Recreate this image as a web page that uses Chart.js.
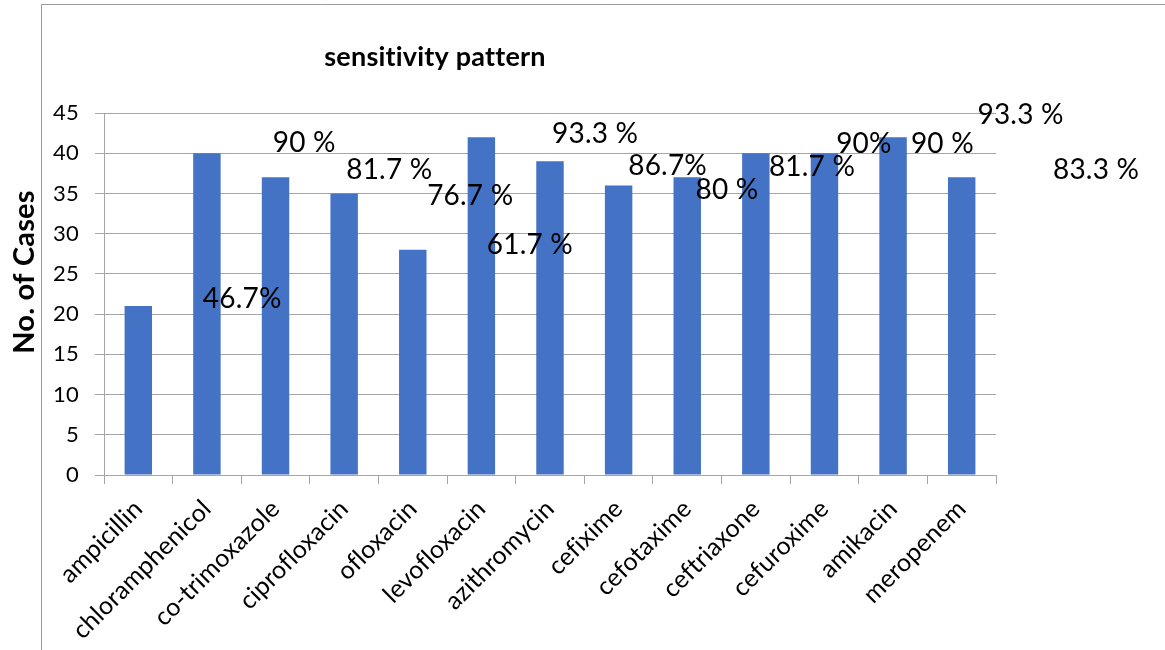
<!DOCTYPE html>
<html>
<head>
<meta charset="utf-8">
<title>sensitivity pattern</title>
<script src="https://cdn.jsdelivr.net/npm/chart.js@4/dist/chart.umd.min.js"></script>
<style>
  html, body { margin: 0; padding: 0; background: #fff; }
  #wrap { position: relative; width: 1165px; height: 650px; }
</style>
</head>
<body>
<div id="wrap"><canvas id="chart" width="1165" height="650"></canvas></div>
<script>
// Antibiotics tested
const drugs = ['ampicillin', 'chloramphenicol', 'co-trimoxazole', 'ciprofloxacin', 'ofloxacin',
  'levofloxacin', 'azithromycin', 'cefixime', 'cefotaxime', 'ceftriaxone', 'cefuroxime',
  'amikacin', 'meropenem'];

// Number of sensitive cases per antibiotic
const cases = [21, 40, 37, 35, 28, 42, 39, 36, 37, 40, 40, 42, 37];

// Sensitivity percentages shown as free text labels
const pctLabels = ['46.7%', '90 %', '81.7 %', '76.7 %', '61.7 %', '93.3 %', '86.7%',
  '80 %', '81.7 %', '90%', '90 %', '93.3 %', '83.3 %'];

// Axis ticks
const yTicks = [0, 5, 10, 15, 20, 25, 30, 35, 40, 45];

// Where each percentage text sits: left edge on the category axis, vertical centre on the value axis
const pctPosX = [0.94, 1.96, 3.03, 4.21, 5.08, 6.03, 7.14, 8.12, 9.19, 10.17, 11.26, 12.23, 13.33];
const pctPosY = [21.9, 41.3, 37.9, 34.7, 28.6, 42.4, 38.4, 35.4, 38.3, 41.2, 41.2, 44.75, 37.9];

const FONT = 'Lato, "Open Sans", sans-serif';
const GRID = '#a6a6a6';

// Frame lines, headings and the percentage texts
const decorations = {
  id: 'decorations',
  beforeDraw(chart) {
    const ctx = chart.ctx;
    // a tiny letter spacing keeps "fi"/"fl" from being drawn as ligatures
    ctx.letterSpacing = '0.2px';
    ctx.save();
    ctx.fillStyle = '#fff';
    ctx.fillRect(0, 0, chart.width, chart.height);
    ctx.strokeStyle = '#9a9a9a';
    ctx.lineWidth = 1;
    ctx.beginPath();
    ctx.moveTo(41.5, chart.height);
    ctx.lineTo(41.5, 4.5);
    ctx.lineTo(chart.width, 4.5);
    ctx.stroke();
    ctx.fillStyle = '#000';
    ctx.font = 'bold 27px ' + FONT;
    ctx.textAlign = 'center';
    ctx.textBaseline = 'alphabetic';
    ctx.fillText('sensitivity pattern', 435, 66);
    // value axis title
    ctx.translate(25, 272);
    ctx.rotate(-Math.PI / 2);
    ctx.font = 'bold 29px ' + FONT;
    ctx.textBaseline = 'middle';
    ctx.fillText('No. of Cases', 0, 0);
    ctx.restore();
  },
  afterDatasetsDraw(chart) {
    const ctx = chart.ctx;
    const xs = chart.scales.x, ys = chart.scales.y;
    ctx.save();
    ctx.fillStyle = '#000';
    ctx.font = '28px ' + FONT;
    ctx.textAlign = 'left';
    ctx.textBaseline = 'middle';
    pctLabels.forEach((t, i) => {
      ctx.fillText(t, xs.getPixelForValue(pctPosX[i]), ys.getPixelForValue(pctPosY[i]));
    });
    ctx.restore();
  }
};

new Chart(document.getElementById('chart'), {
  type: 'bar',
  data: {
    labels: drugs,
    datasets: [{
      label: 'No. of Cases',
      data: cases,
      backgroundColor: '#4472C4',
      borderWidth: 0,
      categoryPercentage: 1,
      barPercentage: 0.4
    }]
  },
  options: {
    responsive: false,
    animation: false,
    layout: { padding: { left: 0, top: 113, right: 169, bottom: 0 } },
    plugins: {
      legend: { display: false },
      tooltip: { enabled: false },
      title: { display: false }
    },
    scales: {
      x: {
        afterFit(s) { s.height = 175; },
        grid: { drawOnChartArea: false, drawTicks: true, tickLength: 9, color: GRID, offset: true },
        border: { display: true, color: GRID },
        ticks: {
          autoSkip: false,
          minRotation: 45,
          maxRotation: 45,
          padding: 10,
          color: '#000',
          font: { family: FONT, size: 25 }
        }
      },
      y: {
        min: 0,
        max: 45,
        afterFit(s) { s.width = 104; },
        afterBuildTicks(s) { s.ticks = yTicks.map(v => ({ value: v })); },
        grid: { color: GRID, tickLength: 9, drawTicks: true },
        border: { display: true, color: GRID },
        ticks: {
          stepSize: 5,
          padding: 16,
          color: '#000',
          font: { family: FONT, size: 22 }
        },
        title: { display: false }
      }
    }
  },
  plugins: [decorations]
});
</script>
</body>
</html>
